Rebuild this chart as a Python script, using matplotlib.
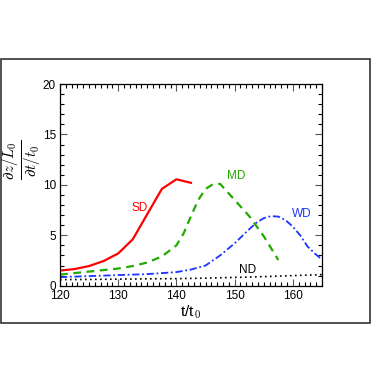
"""Growth rate of the interface position vs time for four cases."""
import matplotlib.pyplot as plt
from matplotlib.patches import Rectangle
from matplotlib.ticker import MultipleLocator

plt.rcParams["font.family"] = ["Liberation Sans", "DejaVu Sans"]
plt.rcParams["mathtext.fontset"] = "cm"

# t/t0 sample times
t_sd = [120, 122.5, 125, 127.5, 130, 132.5, 135, 137.5, 140, 142.5]
t_md = [120, 122.5, 125, 127.5, 130, 132.5, 135, 137.5, 140, 141.25, 142.5,
        143.75, 145, 146.25, 147.5, 150, 152.5, 155, 157.5]
t_wd = [120, 122.5, 125, 127.5, 130, 132.5, 135, 137.5, 140, 142.5,
        145, 147.5, 150, 151.25, 152.5, 153.75, 155, 156.25, 157.5,
        158.75, 160, 161.25, 162.5, 163.75, 165]
t_nd = [120, 125, 130, 135, 140, 145, 150, 155, 160, 165]

# (dz/L0)/(dt/t0)
rate_sd = [1.5, 1.65, 1.95, 2.45, 3.2, 4.6, 7.1, 9.6, 10.55, 10.2]
rate_md = [1.1, 1.25, 1.4, 1.55, 1.7, 1.95, 2.3, 2.9, 4.0, 5.2, 6.9,
           8.5, 9.6, 10.05, 10.1, 8.5, 6.9, 4.9, 2.55]
rate_wd = [0.85, 0.9, 0.95, 1.0, 1.05, 1.1, 1.15, 1.25, 1.35, 1.6,
           2.0, 3.0, 4.2, 4.9, 5.6, 6.25, 6.7, 6.9, 6.85,
           6.5, 5.85, 5.0, 3.9, 3.2, 2.6]
rate_nd = [0.6, 0.62, 0.65, 0.68, 0.7, 0.75, 0.82, 0.9, 1.0, 1.1]

fig = plt.figure(figsize=(3.74, 3.74), dpi=100)
ax = fig.add_axes([0.1604, 0.2361, 0.7005, 0.5393])

ax.plot(t_sd, rate_sd, color="#ff0000", lw=1.6, ls="-")
ax.plot(t_md, rate_md, color="#22aa00", lw=1.6, ls=(0, (3.5, 2.5)))
ax.plot(t_wd, rate_wd, color="#1a33ff", lw=1.3, ls=(0, (4, 1.5, 1, 1.5)))
ax.plot(t_nd, rate_nd, color="black", lw=1.2, ls=(0, (1, 2)))

ax.text(133.7, 7.7, "SD", color="#ff0000", fontsize=8.5, ha="center", va="center")
ax.text(150.2, 10.9, "MD", color="#22aa00", fontsize=8.5, ha="center", va="center")
ax.text(161.5, 7.1, "WD", color="#1a33ff", fontsize=8.5, ha="center", va="center")
ax.text(152.3, 1.55, "ND", color="black", fontsize=8.5, ha="center", va="center")

ax.set_xlim(120, 165)
ax.set_ylim(0, 20)
ax.xaxis.set_major_locator(MultipleLocator(10))
ax.xaxis.set_minor_locator(MultipleLocator(1))
ax.yaxis.set_major_locator(MultipleLocator(5))
ax.yaxis.set_minor_locator(MultipleLocator(1))
ax.tick_params(which="both", direction="in", top=True, right=True, labelsize=8.5)
ax.tick_params(which="major", length=5, width=0.8, color="#555555", pad=3)
ax.tick_params(which="minor", length=3, width=0.8)
for side in ax.spines.values():
    side.set_linewidth(0.9)

ax.set_xlabel("t/t$_{\\,0}$", fontsize=11, labelpad=1)
fig.text(22 / 374, 1 - 160 / 374, r"$\frac{\partial z/L_0}{\partial t/t_0}$",
         fontsize=15.5, rotation=90, ha="center", va="center")

# frame around the whole panel
fig.patches.append(Rectangle((0.002, 1 - 323 / 374), 0.988, 264 / 374,
                             transform=fig.transFigure, fill=False,
                             edgecolor="#333333", lw=1.2))

fig.savefig("out.png", dpi=100)
